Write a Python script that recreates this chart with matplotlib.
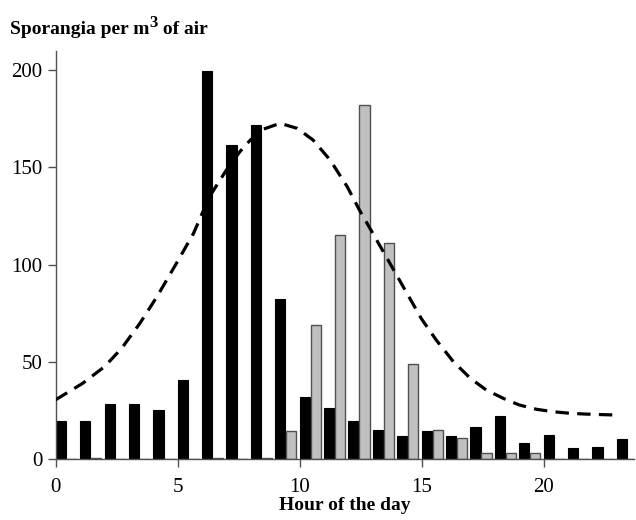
import numpy as np
import matplotlib
matplotlib.use("Agg")
import matplotlib.pyplot as plt

plt.rcParams['font.family'] = ['Liberation Serif', 'DejaVu Serif']

# hourly counts
hours = np.arange(24)
black_vals = [19.5, 19.5, 28.1, 28.5, 25.0, 40.5, 199.5, 161.4, 171.6, 82.1,
              31.7, 26.4, 19.5, 14.9, 12.0, 14.6, 11.7, 16.6, 22.3, 8.2,
              12.5, 5.7, 6.0, 10.4]
gray_vals = [0, 0.7, 0, 0, 0, 0, 0.7, 0, 0.7, 14.6,
             68.9, 115.2, 181.9, 111.1, 48.7, 14.9, 10.8, 3.3, 2.9, 2.9,
             0, 0, 0, 0]

# dashed curve, points
curve_x = [0.0, 1.1, 2.0, 2.7, 3.45, 4.15, 4.95, 5.65, 6.3, 7.0, 7.55, 7.85,
           8.4, 9.2, 9.9, 10.55, 11.25, 11.95, 12.45, 13.0, 13.7, 14.4,
           15.0, 15.6, 16.3, 17.0, 17.65, 18.35, 19.0, 19.7, 20.4, 21.1,
           21.75, 23.0]
curve_y = [30.5, 38.9, 47.5, 56.9, 69.8, 83.5, 100.7, 116.1, 134.9, 148.7,
           158.1, 162.4, 169.2, 172.7, 170.1, 164.1, 153.8, 140.1, 128.1,
           116.1, 100.7, 85.2, 72.0, 61.2, 50.1, 41.5, 35.5, 31.2, 27.8,
           25.6, 24.3, 23.5, 23.1, 22.6]

fig = plt.figure(figsize=(6.36, 5.2), dpi=100)
ax = fig.add_axes([0.0876, 0.1173, 0.909, 0.785])

w = 0.42
ax.bar(hours, black_vals, width=w, align='edge', color='black',
       edgecolor='black', linewidth=0.8, zorder=2)
ax.bar(hours + 0.45, gray_vals, width=w, align='edge', color='#c0c0c0',
       edgecolor='#505050', linewidth=1.0, zorder=2)
ax.plot(curve_x, curve_y, color='black', linewidth=2.3,
        dashes=(4.2, 2.6), zorder=3)

ax.set_xlim(0, 23.7)
ax.set_ylim(0, 210)
ax.set_xticks([0, 5, 10, 15, 20])
ax.set_yticks([0, 50, 100, 150, 200])
for s in ['top', 'right']:
    ax.spines[s].set_visible(False)
for s in ['left', 'bottom']:
    ax.spines[s].set_color('#505050')
    ax.spines[s].set_linewidth(1.0)
ax.tick_params(axis='both', colors='#505050', labelcolor='black',
               labelsize=15, length=6, width=1.0, direction='out')
ax.tick_params(axis='x', pad=8)

ax.set_xlabel('Hour of the day', fontsize=14, fontweight='bold', labelpad=0)

# y title with a big superscript 3
t1 = fig.text(0.016, 0.935, 'Sporangia per m', fontsize=14,
              fontweight='bold', ha='left', va='baseline')
ax.annotate('3', xy=(1, 0), xycoords=t1, xytext=(-0.5, 5),
            textcoords='offset points', fontsize=12, fontweight='bold',
            ha='left', va='bottom', annotation_clip=False)
ax.annotate(' of air', xy=(1, 0), xycoords=t1, xytext=(6, 0),
            textcoords='offset points', fontsize=14, fontweight='bold',
            ha='left', va='bottom', annotation_clip=False)

fig.savefig('out.png', dpi=100)
